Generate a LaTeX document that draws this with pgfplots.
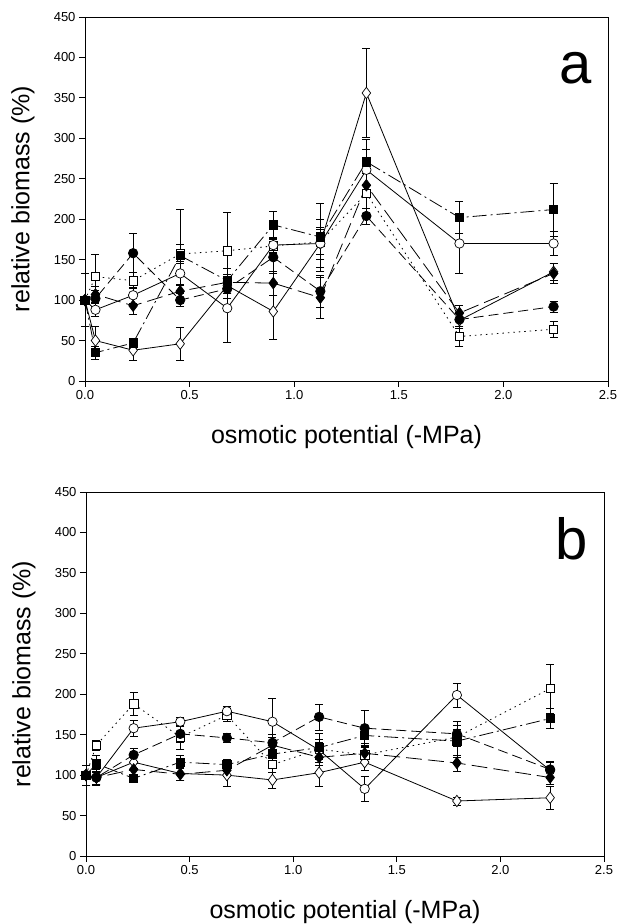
\documentclass[border=0pt]{standalone}
\usepackage{fontspec}
\setmainfont{Liberation Sans}
\usepackage{pgfplots}
\pgfplotsset{compat=1.18}

\pgfplotsset{
  panel/.style={
    scale only axis, height=364pt, anchor=south west,
    xmin=0, xmax=2.5, ymin=0, ymax=450,
    xtick={0,0.5,1,1.5,2,2.5}, ytick={0,50,100,150,200,250,300,350,400,450},
    tick align=outside, xtick pos=bottom, ytick pos=left,
    major tick length=6pt,
    axis line style={line width=0.8pt},
    every tick/.style={black, line width=0.8pt},
    tick label style={font=\fontsize{13}{15}\selectfont},
    /pgf/number format/assume math mode=true,
    x tick label style={/pgf/number format/fixed, /pgf/number format/fixed zerofill, /pgf/number format/precision=1},
    label style={font=\fontsize{25}{30}\selectfont},
    xlabel={osmotic potential (-MPa)},
    ylabel={relative biomass (\%)},
    ylabel style={at={(axis description cs:0,0.5)}, anchor=center, yshift=62pt},
    xlabel style={at={(axis description cs:0.5,0)}, anchor=center, yshift=-56.5pt},
    clip=false,
  },
  eb/.style={black, line width=0.8pt,
    error bars/y dir=both, error bars/y explicit,
    error bars/error mark options={rotate=90, mark size=4pt, line width=0.6pt, solid, black},
    error bars/error bar style={line width=0.6pt, solid, black}},
  sOC/.style={eb, solid, mark=*, mark size=4.7pt, mark options={solid, fill=white, draw=black, line width=0.7pt}},
  sOD/.style={eb, solid, mark=diamond*, mark size=5.7pt, mark options={solid, fill=white, draw=black, line width=0.7pt}},
  sFC/.style={eb, dash pattern=on 10pt off 5pt, mark=*, mark size=4.7pt, mark options={solid, fill=black}},
  sFD/.style={eb, dash pattern=on 16pt off 6pt, mark=diamond*, mark size=5.7pt, mark options={solid, fill=black}},
  sFS/.style={eb, dash pattern=on 14pt off 4pt on 2pt off 4pt, mark=square*, mark size=4.2pt, mark options={solid, fill=black}},
  sOS/.style={eb, dash pattern=on 1.5pt off 4pt, mark=square*, mark size=4.2pt, mark options={solid, fill=white, draw=black, line width=0.7pt}},
}

\begin{document}
\begin{tikzpicture}
\useasboundingbox (0pt,0pt) rectangle (618pt,924pt);

% ---------------- panel a ----------------
\begin{axis}[panel, width=523pt, at={(85pt,543pt)}]
\addplot[sOD] table[x=x,y=y,y error=e] {
x y e
0 100 33
0.05 50 18
0.23 38 12
0.455 46 20
0.68 118 10
0.9 86 35
1.125 170 20
1.345 356 55
1.79 75 10
2.24 135 10
};
\addplot[sOS] table[x=x,y=y,y error=e] {
x y e
0 100 33
0.05 129 28
0.23 124 10
0.455 157 12
0.68 161 48
0.9 167 8
1.125 172 15
1.345 232 25
1.79 55 12
2.24 64 10
};
\addplot[sOC] table[x=x,y=y,y error=e] {
x y e
0 100 33
0.05 88 8
0.23 106 10
0.455 133 15
0.68 90 42
0.9 168 10
1.125 170 30
1.345 261 25
1.79 170 37
2.24 170 15
};
\addplot[sFC] table[x=x,y=y,y error=e] {
x y e
0 100 33
0.05 102 10
0.23 158 24
0.455 100 8
0.68 114 12
0.9 153 20
1.125 111 20
1.345 204 10
1.79 76 8
2.24 92 7
};
\addplot[sFD] table[x=x,y=y,y error=e] {
x y e
0 100 33
0.05 107 10
0.23 93 10
0.455 111 8
0.68 122 10
0.9 121 15
1.125 103 25
1.345 242 15
1.79 84 10
2.24 133 12
};
\addplot[sFS] table[x=x,y=y,y error=e] {
x y e
0 100 33
0.05 35 8
0.23 47 6
0.455 155 57
0.68 124 15
0.9 193 17
1.125 178 42
1.345 271 28
1.79 202 20
2.24 212 33
};
\node[font=\fontsize{58}{60}\selectfont, inner sep=0pt] at (rel axis cs:0.939,0.86) {a};
\end{axis}

% ---------------- panel b ----------------
\begin{axis}[panel, width=518pt, at={(86pt,68pt)}]
\addplot[sOD] table[x=x,y=y,y error=e] {
x y e
0 100 12
0.05 97 10
0.23 116 8
0.455 102 8
0.68 100 14
0.9 94 10
1.125 103 17
1.345 116 10
1.79 68 5
2.24 72 14
};
\addplot[sOS] table[x=x,y=y,y error=e] {
x y e
0 100 12
0.05 137 6
0.23 188 14
0.455 147 15
0.68 174 8
0.9 113 10
1.125 132 12
1.345 125 10
1.79 147 10
2.24 207 30
};
\addplot[sOC] table[x=x,y=y,y error=e] {
x y e
0 100 12
0.05 97 8
0.23 158 10
0.455 166 6
0.68 179 6
0.9 166 29
1.125 131 10
1.345 83 15
1.79 199 15
2.24 106 10
};
\addplot[sFC] table[x=x,y=y,y error=e] {
x y e
0 100 12
0.05 97 8
0.23 125 8
0.455 151 10
0.68 146 6
0.9 140 10
1.125 172 16
1.345 158 22
1.79 151 15
2.24 107 10
};
\addplot[sFD] table[x=x,y=y,y error=e] {
x y e
0 100 12
0.05 97 8
0.23 107 8
0.455 101 8
0.68 106 8
0.9 137 10
1.125 122 10
1.345 127 10
1.79 115 10
2.24 97 8
};
\addplot[sFS] table[x=x,y=y,y error=e] {
x y e
0 100 12
0.05 114 10
0.23 96 5
0.455 116 8
0.68 113 6
0.9 126 14
1.125 134 18
1.345 149 10
1.79 142 20
2.24 170 12
};
\node[font=\fontsize{58}{60}\selectfont, inner sep=0pt] at (rel axis cs:0.938,0.871) {b};
\end{axis}
\end{tikzpicture}
\end{document}
